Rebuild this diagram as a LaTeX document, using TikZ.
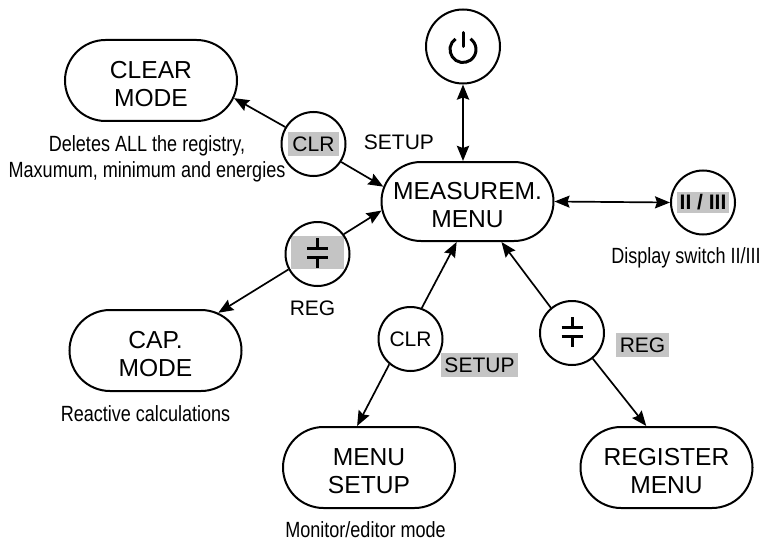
\documentclass[tikz,border=0pt]{standalone}
\usepackage{fontspec}
\setmainfont{Liberation Sans}
\newfontfamily\narrowfont[FakeStretch=0.82]{Liberation Sans}
\usepackage{tikz}
\usetikzlibrary{positioning,arrows.meta,shapes.misc}
\definecolor{keygray}{RGB}{196,196,196}
\newcommand{\lowered}[1]{\raisebox{-1.75pt}[\height][\depth]{#1}}

\begin{document}
\begin{tikzpicture}[
    x=0.5pt, y=-0.5pt,
    menubox/.style={rounded rectangle, draw, line width=1pt, minimum width=42pt, minimum height=40.5pt, inner xsep=-22pt, inner ysep=0pt, align=center, font=\fontsize{12.3}{14}\selectfont},
    button/.style={circle, draw, line width=1pt, minimum size=32pt, inner sep=0pt, font=\fontsize{10.5}{12}\selectfont},
    keyname/.style={inner sep=0pt, font=\fontsize{10.5}{12}\selectfont},
    lit/.style={keyname, fill=keygray, inner xsep=1.8pt, inner ysep=2.25pt},
    hint/.style={inner sep=0pt, align=center, font=\narrowfont\fontsize{11}{13}\selectfont},
    pointer/.style={-{Stealth[length=7.5pt,width=6pt,inset=1pt]}, line width=0.85pt},
    twoway/.style={{Stealth[length=7.5pt,width=6pt,inset=1pt]}-{Stealth[length=7.5pt,width=6pt,inset=1pt]}, line width=0.85pt}
]
    \useasboundingbox (0,0) rectangle (765,540);

    % menus
    \node[menubox] (clear) at (151,80.5) {\lowered{CLEAR}\\\lowered{MODE}};
    \node[menubox, minimum height=39.5pt] (meas) at (467.5,201.5) {\lowered{MEASUREM.}\\\lowered{MENU}};
    \node[menubox] (cap) at (155.5,350.5) {\lowered{CAP.}\\\lowered{MODE}};
    \node[menubox] (setup) at (369,467.5) {\lowered{MENU}\\\lowered{SETUP}};
    \node[menubox] (register) at (666.5,467.5) {\lowered{REGISTER}\\\lowered{MENU}};

    % keys
    \node[fill=keygray, minimum width=26.5pt, minimum height=16.5pt, inner sep=0pt] (capkey) at (317.5,252.5) {};
    \node[button, minimum size=37pt] (power) at (463,46.5) {};
    \node[button] (clrup) at (313.5,144) {\setlength{\fboxsep}{2.25pt}\colorbox{keygray}{CLR}};
    \node[button] (regup) at (317.5,254) {};
    \node[button] (clrdown) at (410.5,339) {CLR};
    \node[button] (regdown) at (572,333) {};
    \node[button] (switch) at (703,202.5) {\setlength{\fboxsep}{1.1pt}\colorbox{keygray}{\bfseries II / III}};

    % key names
    \node[keyname, right=8.5pt of clrup, yshift=1pt] (setupname) {SETUP};
    \node[keyname, below=6.5pt of regup, xshift=-2.5pt] (regname) {REG};
    \node[lit] (setuplit) at (479.5,365) {SETUP};
    \node[lit] (reglit) at (642.5,345) {REG};

    % notes
    \node[hint, below=6.5pt of clear, xshift=-2pt] (clearnote) {Deletes ALL the registry,\\Maxumum, minimum and energies};
    \node[hint, below=6.5pt of cap, xshift=-5pt] (capnote) {Reactive calculations};
    \node[hint, below=6pt of setup, xshift=-1.75pt] (setupnote) {Monitor/editor mode};
    \node[hint, below=6pt of switch, xshift=-8.5pt] (switchnote) {Display switch II/III};

    % symbols
    \draw[line width=1.5pt] ([yshift=-1.5pt]power.center) ++(125:6.5pt) arc[start angle=125, end angle=415, radius=6.5pt];
    \draw[line width=1.5pt, line cap=round] ([yshift=7pt]power.center) -- (power.center);
    \foreach \k in {regup, regdown} {
        \draw[line width=1.5pt] ([shift={(-5.25pt,2.85pt)}]\k.center) -- ++(10.5pt,0pt)
            ([shift={(-5.25pt,-1.85pt)}]\k.center) -- ++(10.5pt,0pt)
            ([yshift=2.85pt]\k.center) -- ++(0pt,5pt)
            ([yshift=-1.85pt]\k.center) -- ++(0pt,-5pt);
    }

    \foreach \from/\to in {clrup.149/clear.-12, clrup.-33/meas.170, regup.37/meas.186, regup.208/cap.31, clrdown.70/meas.255, clrdown.230/setup.106, regdown.130/meas.-50, regdown.-51/register.116}
        \draw[pointer] (\from) -- (\to);
    \draw[twoway, line width=1.3pt] (power.south) -- (power.south |- meas.north);
    \draw[twoway] (meas.east) -- (switch.west);
\end{tikzpicture}
\end{document}
